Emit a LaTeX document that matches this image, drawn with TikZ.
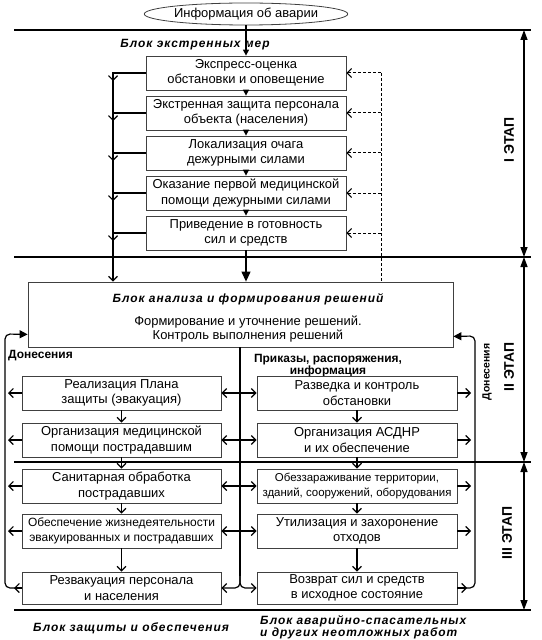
\documentclass[tikz,border=0pt]{standalone}
\usepackage{fontspec}
\setmainfont{Liberation Sans}
\newfontfamily\blkfont[LetterSpace=8]{Liberation Sans}
\usetikzlibrary{arrows.meta,shapes.geometric,calc}
\begin{document}
\begin{tikzpicture}[x=1bp,y=-1bp,
  box/.style={draw=black!75, line width=0.8bp, minimum width=200bp, minimum height=34bp, inner sep=0, align=center, font=\fontsize{13}{15.5}\selectfont},
  conn/.style={line width=1.2bp},
  sepline/.style={line width=1.4bp},
  filled/.style={-{Triangle[length=6bp,width=6bp]}},
  bigtip/.style={-{Triangle[length=10bp,width=9bp]}},
  sidetip/.style={-{Triangle[length=8bp,width=8bp]}},
  barb/.style={-{Straight Barb[length=4.5bp,width=9bp]}},
  dashl/.style={dash pattern=on 3bp off 2bp, line width=1bp},
  lbl/.style={font=\blkfont\bfseries\itshape\fontsize{12}{13}\selectfont, inner sep=0},
  stagearr/.style={line width=1.4bp, {Triangle[length=10bp,width=7bp]}-{Triangle[length=10bp,width=7bp]}},
  stagelbl/.style={rotate=90, font=\bfseries\fontsize{14}{14}\selectfont, inner sep=0}
]
\useasboundingbox (0,0) rectangle (542,640);

% separators
\draw[sepline] (14,30) -- (531,30);
\draw[sepline] (14,257) -- (531,257);
\draw[sepline] (14,462) -- (531,462);
\draw[sepline] (14,610) -- (531,610);

% stage arrows
\coordinate (s1) at (524,30);
\coordinate (s2) at (524,257);
\coordinate (s3) at (524,462);
\coordinate (s4) at (524,610);
\draw[stagearr] (s1) -- (s2);
\draw[stagearr] (s2) -- (s3);
\draw[stagearr] (s3) -- (s4);
\node[stagelbl] (st1) at (509,140) {I ЭТАП};
\node[stagelbl] (st2) at (509,367) {II ЭТАП};
\node[stagelbl] (st3) at (507,533) {III ЭТАП};
\node[rotate=90, font=\bfseries\fontsize{10.5}{10.5}\selectfont, inner sep=0] (don2) at (487,372) {Донесения};

% top
\node[ellipse, draw=black!75, line width=0.8bp, minimum width=197bp, minimum height=22bp, inner sep=0, font=\fontsize{13}{15}\selectfont] (info) at (246,14) {Информация об аварии};
\node[lbl] (bem) at (195,45) {Блок экстренных мер};

\node[box] (t1) at (246,73) {Экспресс-оценка\\обстановки и оповещение};
\node[box] (t2) at (246,113) {Экстренная защита персонала\\объекта (населения)};
\node[box] (t3) at (246,153) {Локализация очага\\дежурными силами};
\node[box] (t4) at (246,193) {Оказание первой медицинской\\помощи дежурными силами};
\node[box] (t5) at (246,233) {Приведение в готовность\\сил и средств};

\draw[conn,filled] (info.south) -- (t1.north);
\draw[conn,filled] (t1.south) -- (t2.north);
\draw[conn,filled] (t2.south) -- (t3.north);
\draw[conn,filled] (t3.south) -- (t4.north);
\draw[conn,filled] (t4.south) -- (t5.north);

% analysis block
\node[draw=black!75, line width=0.8bp, minimum width=425bp, minimum height=65bp, inner sep=0] (blk) at (240.5,314.5) {};
\node[lbl] (bat) at (248,299) {Блок анализа и формирования решений};
\node[align=center, font=\fontsize{13}{13.5}\selectfont, inner sep=0] (bbody) at (248,329) {Формирование и уточнение решений.\\Контроль выполнения решений};

\draw[conn,bigtip] (t5.south) -- (t5.south |- blk.north);

% left collector
\coordinate (lx) at (113,73);
\draw[conn,barb] (lx) -- (lx |- blk.north);
\foreach \t in {t1,t2,t3,t4,t5} {
  \draw[conn,barb] (\t.west) -- (\t.west -| lx) -- ++(0,8);
}

% dashed feedback
\coordinate (dx) at (381,73);
\draw[dashl] (dx) -- (dx |- blk.north);
\foreach \t in {t1,t2,t3,t4,t5} {
  \draw[dashl,barb] (\t.east -| dx) -- (\t.east);
}

% lower labels
\node[font=\bfseries\fontsize{12}{12}\selectfont, anchor=west, inner sep=0] (don) at (8,356) {Донесения};
\node[font=\bfseries\fontsize{12}{9.5}\selectfont, align=center, inner sep=0] (prik) at (328,366) {Приказы, распоряжения,\\информация};

% lower boxes
\node[box, minimum width=199bp] (l1) at (121.5,393) {Реализация Плана\\защиты (эвакуация)};
\node[box, minimum width=199bp] (l2) at (121.5,440) {Организация медицинской\\помощи пострадавшим};
\node[box, minimum width=199bp] (l3) at (121.5,486) {Санитарная обработка\\пострадавших};
\node[box, minimum width=199bp, font=\fontsize{12}{15.5}\selectfont] (l4) at (121.5,531) {Обеспечение жизнедеятельности\\эвакуированных и пострадавших};
\node[box, minimum width=199bp, minimum height=32bp] (l5) at (121.5,588) {Резвакуация персонала\\и населения};

\node[box] (r1) at (357,393) {Разведка и контроль\\обстановки};
\node[box] (r2) at (357,440) {Организация АСДНР\\и их обеспечение};
\node[box, font=\fontsize{11.5}{15}\selectfont] (r3) at (357,486) {Обеззараживание территории,\\зданий, сооружений, оборудования};
\node[box] (r4) at (357,531) {Утилизация и захоронение\\отходов};
\node[box, minimum height=32bp] (r5) at (357,588) {Возврат сил и средств\\в исходное состояние};

\draw[conn,barb] (l1.south) -- (l2.north);
\draw[conn,barb] (l2.south) -- (l3.north);
\draw[conn,barb] (l3.south) -- (l4.north);
\draw[conn,barb] (l4.south) -- (l5.north);
\draw[conn,barb] (r1.south) -- (r2.north);
\draw[conn,barb] (r2.south) -- (r3.north);
\draw[conn,barb] (r3.south) -- (r4.north);
\draw[conn,barb] (r4.south) -- (r5.north);

% central distributor
\coordinate (cx) at (240,347);
\coordinate (cy) at (240,576);
\draw[conn] (cx) -- (cy);
\foreach \k in {1,2,3,4} {
  \draw[conn,barb] (l\k.east -| cx) -- (l\k.east);
  \draw[conn,barb] (r\k.west -| cx) -- (r\k.west);
}
\draw[conn,barb,rounded corners=5bp] (cy) |- (l5.east);
\draw[conn,barb,rounded corners=5bp] (cy) |- (r5.west);

% left reports
\coordinate (ox) at (5,334);
\coordinate (bl) at ($(blk.south west)+(0,-13)$);
\draw[conn,sidetip,rounded corners=5bp] (l5.west) -| (ox) -- (bl);
\foreach \k in {1,2,3,4} {
  \draw[conn,barb] (l\k.west) -- ($(l\k.west -| ox)+(3,0)$);
}
\draw[conn,barb] (l5.west) -- ($(l5.west -| ox)+(9,0)$);

% right reports
\coordinate (rx) at (475,336);
\coordinate (br) at ($(blk.south east)+(0,-11)$);
\draw[conn,sidetip,rounded corners=5bp] (r5.east) -| (rx) -- (br);
\foreach \k in {1,2,3,4} {
  \draw[conn,barb] (r\k.east) -- ($(r\k.east -| rx)+(-4,0)$);
}
\draw[conn,barb] (r5.east) -- ($(r5.east -| rx)+(-8,0)$);

% bottom labels
\node[lbl, anchor=west] (bzo) at (33,628) {Блок защиты и обеспечения};
\node[lbl, anchor=west, align=left, font=\blkfont\bfseries\itshape\fontsize{12}{12.5}\selectfont] (bas) at (260,627) {Блок аварийно-спасательных\\и других неотложных работ};
\end{tikzpicture}
\end{document}
